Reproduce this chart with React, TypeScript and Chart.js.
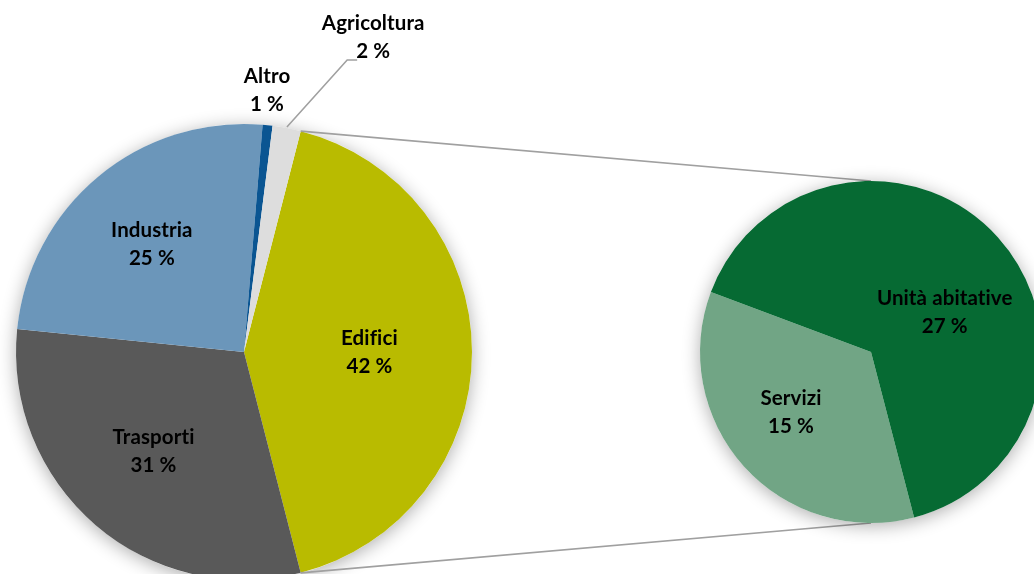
import React, { useEffect, useRef } from 'react';
import { Chart, registerables } from 'chart.js';
Chart.register(...registerables);

// ---- data ----
const mainLabels = ['Edifici', 'Trasporti', 'Industria', 'Altro', 'Agricoltura'];
const mainValues = [42.0, 30.6, 24.7, 0.7, 2.0];
const mainColors = ['#b9bb00', '#595959', '#6b96ba', '#0a5592', '#dddddd'];

const subLabels = ['Servizi', 'Unità abitative'];
const subValues = [14.6, 27.4];
const subColors = ['#71a585', '#066a33'];

const grandTotal = mainValues.reduce((a, b) => a + b, 0);

// ---- label placement (radius factor, angle shift in degrees) ----
const mainPlace = [
  { r: 0.55, da: 0 },
  { r: 0.59, da: 1.6 },
  { r: 0.62, da: -0.9 },
  { r: 1.15, da: -0.9 },
  { r: 1.493, da: 11.5, leader: true },
];
const subPlace = [
  { r: 0.585, da: 5.1 },
  { r: 0.49, da: 13.6 },
];

const FONT = 'Lato, "Open Sans", sans-serif';
const LINE = '#a0a0a0';

function shadowPlugin() {
  return {
    id: 'pieShadow',
    beforeDatasetsDraw(chart: any) {
      const arc = chart.getDatasetMeta(0).data[0];
      if (!arc) return;
      const p = arc.getProps(['x', 'y', 'outerRadius'], true);
      const ctx = chart.ctx;
      ctx.save();
      ctx.shadowColor = 'rgba(0,0,0,0.32)';
      ctx.shadowBlur = 18;
      ctx.shadowOffsetY = 3;
      ctx.fillStyle = '#ffffff';
      ctx.beginPath();
      ctx.arc(p.x, p.y, p.outerRadius, 0, Math.PI * 2);
      ctx.fill();
      ctx.restore();
    },
  };
}

function labelPlugin(labels: string[], values: number[], place: any[]) {
  return {
    id: 'pieLabels',
    afterDatasetsDraw(chart: any) {
      const ctx = chart.ctx;
      const meta = chart.getDatasetMeta(0);
      meta.data.forEach((arc: any, i: number) => {
        const p = arc.getProps(['x', 'y', 'startAngle', 'endAngle', 'outerRadius'], true);
        const mid = (p.startAngle + p.endAngle) / 2;
        const a = mid + (place[i].da * Math.PI) / 180;
        const R = p.outerRadius * place[i].r;
        const lx = p.x + R * Math.cos(a);
        const ly = p.y + R * Math.sin(a);
        if (place[i].leader) {
          const sx = p.x + (p.outerRadius + 1) * Math.cos(mid);
          const sy = p.y + (p.outerRadius + 1) * Math.sin(mid);
          ctx.save();
          ctx.strokeStyle = LINE;
          ctx.lineWidth = 1.6;
          ctx.beginPath();
          ctx.moveTo(sx, sy);
          ctx.lineTo(lx - 26, ly + 23);
          ctx.lineTo(lx - 16, ly + 23);
          ctx.stroke();
          ctx.restore();
        }
        const pct = Math.round((values[i] / grandTotal) * 100);
        ctx.save();
        ctx.fillStyle = '#000000';
        ctx.font = `bold 20.5px ${FONT}`;
        (ctx as any).textRendering = 'optimizeSpeed';
        (ctx as any).letterSpacing = '0.1px';
        ctx.textAlign = 'center';
        ctx.textBaseline = 'middle';
        ctx.fillText(labels[i], lx, ly - 14);
        ctx.fillText(`${pct} %`, lx, ly + 14);
        ctx.restore();
      });
    },
  };
}

export default function App() {
  const mainRef = useRef<HTMLCanvasElement>(null);
  const subRef = useRef<HTMLCanvasElement>(null);

  useEffect(() => {
    document.body.style.margin = '0';
    const mainShare = mainValues[0] / grandTotal;

    const sub = new Chart(subRef.current as HTMLCanvasElement, {
      type: 'pie',
      data: {
        labels: subLabels,
        datasets: [{ data: subValues, backgroundColor: subColors, borderWidth: 0 }],
      },
      options: {
        responsive: false,
        animation: false,
        rotation: 165.4,
        layout: { padding: { left: 700, top: 181, right: 58, bottom: 51 } },
        plugins: { legend: { display: false }, tooltip: { enabled: false } },
        events: [],
      },
      plugins: [shadowPlugin(), labelPlugin(subLabels, subValues, subPlace)],
    });

    const connectors = {
      id: 'connectors',
      afterDatasetsDraw(chart: any) {
        const ed = chart.getDatasetMeta(0).data[0];
        const s = sub.getDatasetMeta(0).data[0] as any;
        if (!ed || !s) return;
        const p = ed.getProps(['x', 'y', 'startAngle', 'endAngle', 'outerRadius'], true);
        const q = s.getProps(['x', 'y', 'outerRadius'], true);
        const ctx = chart.ctx;
        ctx.save();
        ctx.strokeStyle = LINE;
        ctx.lineWidth = 1.6;
        ctx.beginPath();
        ctx.moveTo(p.x + p.outerRadius * Math.cos(p.startAngle), p.y + p.outerRadius * Math.sin(p.startAngle));
        ctx.lineTo(q.x, q.y - q.outerRadius);
        ctx.moveTo(p.x + p.outerRadius * Math.cos(p.endAngle), p.y + p.outerRadius * Math.sin(p.endAngle));
        ctx.lineTo(q.x, q.y + q.outerRadius);
        ctx.stroke();
        ctx.restore();
      },
    };

    const main = new Chart(mainRef.current as HTMLCanvasElement, {
      type: 'pie',
      data: {
        labels: mainLabels,
        datasets: [{ data: mainValues, backgroundColor: mainColors, borderWidth: 0 }],
      },
      options: {
        responsive: false,
        animation: false,
        rotation: 90 - (mainShare * 360) / 2,
        layout: { padding: { left: 16, top: 124, right: 562, bottom: 40 } },
        plugins: { legend: { display: false }, tooltip: { enabled: false } },
        events: [],
      },
      plugins: [shadowPlugin(), connectors, labelPlugin(mainLabels, mainValues, mainPlace)],
    });

    return () => {
      main.destroy();
      sub.destroy();
    };
  }, []);

  return (
    <div style={{ position: 'relative', width: 1034, height: 574, overflow: 'hidden', background: '#ffffff' }}>
      <canvas ref={mainRef} width={1034} height={620} style={{ position: 'absolute', left: 0, top: 0, width: 1034, height: 620 }} />
      <canvas ref={subRef} width={1100} height={574} style={{ position: 'absolute', left: 0, top: 0, width: 1100, height: 574 }} />
    </div>
  );
}
